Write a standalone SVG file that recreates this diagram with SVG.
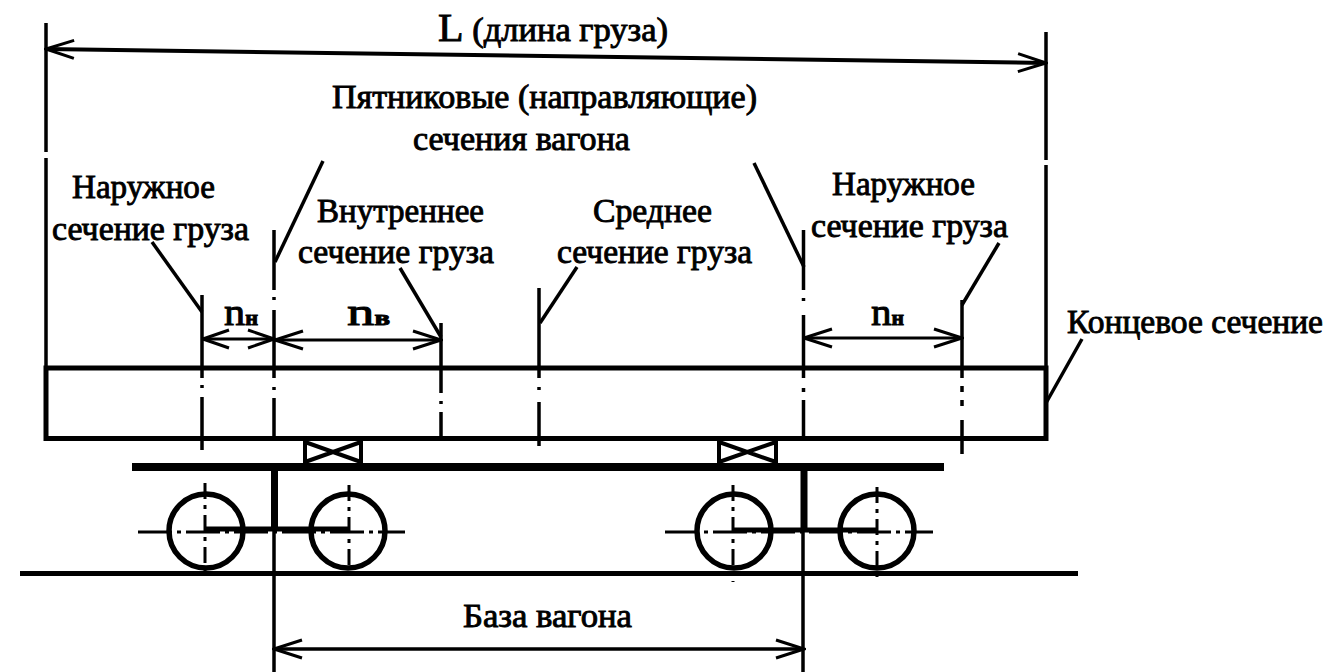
<svg xmlns="http://www.w3.org/2000/svg" width="1341" height="672" viewBox="0 0 1341 672">
<style>
.t{font-family:"Liberation Serif","Times New Roman",serif;font-size:33px;fill:#000;stroke:#000;stroke-width:.9px}
.n{font-size:38px}
.s{font-size:20px;font-weight:bold}
line,path,circle,rect{stroke:#000;fill:none;stroke-linecap:butt}
.th{stroke-width:3.500}
.m{stroke-width:4}
.b{stroke-width:5}
.h{stroke-width:8}
.dim{stroke-width:3}
.lead{stroke-width:3.500}
.w{stroke-width:5.500;fill:none}
.c{stroke-width:3}
</style>
<defs>
<marker id="a" viewBox="-30 -12 32 24" refX="0" refY="0" markerWidth="32" markerHeight="24" markerUnits="userSpaceOnUse" orient="auto-start-reverse">
<path d="M-28,-9 L0,0 L-28,9" style="stroke-width:3"/>
</marker>
<marker id="as" viewBox="-30 -12 32 24" refX="0" refY="0" markerWidth="32" markerHeight="24" markerUnits="userSpaceOnUse" orient="auto-start-reverse">
<path d="M-26,-9 L0,0 L-26,9" style="stroke-width:3"/>
</marker>
</defs>
<rect width="1341" height="672" style="fill:#fff;stroke:none"/>
<g id="cargo">
<path class="b" d="M46,368 V438.500 H1046 V368 Z"/>
<path class="th" d="M46,23 V152 M46,158 V368 M1046,32 V160 M1046,165 V368"/>
</g>
<g id="pads">
<path class="m" d="M305,440 V464 M361,440 V464 M305,442 L361,462 M361,442 L305,462"/>
<path class="m" d="M719,440 V464 M776,440 V464 M719,442 L776,462 M776,442 L719,462"/>
</g>
<g id="wagon">
<line class="h" x1="132" y1="467" x2="944" y2="467"/>
<line x1="274.500" y1="471" x2="274.500" y2="530" style="stroke-width:7"/>
<line x1="804" y1="471" x2="804" y2="530" style="stroke-width:7"/>
<line class="b" x1="205" y1="529" x2="348" y2="529"/>
<line class="b" x1="734" y1="530" x2="877" y2="530"/>
<circle class="w" cx="206" cy="531" r="37"/>
<circle class="w" cx="348" cy="531" r="37"/>
<circle class="w" cx="734" cy="531" r="37"/>
<circle class="w" cx="877" cy="531" r="37"/>
<path class="c" d="M138,532 H405 M665,532 H933" stroke-dasharray="34 5 4 5"/>
<path class="c" d="M205,483 V576 M349,485 V576 M733,485 V582 M877,487 V582" stroke-dasharray="16 6 4 6"/>
<line class="b" x1="20" y1="573.500" x2="1078" y2="573.500"/>
</g>
<g id="sections">
<path class="th" d="M202,295 V378 M202,385 V388 M202,397 V450"/>
<path class="th" d="M274,230 V290 M274,297 V300 M274,310 V378 M274,387 V390 M274,398 V438"/>
<path class="th" d="M274,530 V672"/>
<path class="th" d="M441,323 V393 M441,401 V404 M441,412 V438"/>
<path class="th" d="M539,288 V378 M539,387 V390 M539,402 V446"/>
<path class="th" d="M803.500,230 V290 M803.500,298 V301 M803.500,315 V378 M803.500,388 V392 M803.500,400 V438"/>
<path class="th" d="M803,530 V672"/>
<path class="th" d="M962,300 V378 M962,386 V392 M962,400 V406 M962,420 V454"/>
</g>
<g id="connectors">
<line class="m" x1="46" y1="49" x2="1046" y2="63" marker-start="url(#a)" marker-end="url(#a)"/>
<line class="dim" x1="203" y1="339" x2="274" y2="339" marker-start="url(#as)" marker-end="url(#as)"/>
<line class="dim" x1="275" y1="340" x2="441" y2="340" marker-start="url(#a)" marker-end="url(#a)"/>
<line class="dim" x1="804" y1="338" x2="962" y2="338" marker-start="url(#a)" marker-end="url(#a)"/>
<line class="th" x1="274" y1="649" x2="804" y2="649" marker-start="url(#a)" marker-end="url(#a)"/>
<line class="lead" x1="152" y1="242" x2="202" y2="312"/>
<line class="lead" x1="323" y1="161" x2="275" y2="262"/>
<line class="lead" x1="754" y1="163" x2="804" y2="267"/>
<line class="lead" x1="400" y1="268" x2="441" y2="337"/>
<line class="lead" x1="577" y1="267" x2="540" y2="323"/>
<line class="lead" x1="999" y1="243" x2="962" y2="305"/>
<line class="lead" x1="1082" y1="339" x2="1046" y2="403"/>
</g>
<g id="labels">
<text class="t" x="438" y="41" textLength="230" lengthAdjust="spacingAndGlyphs"><tspan style="font-size:40px">L</tspan> (длина груза)</text>
<text class="t" x="332" y="108" textLength="425" lengthAdjust="spacingAndGlyphs">Пятниковые (направляющие)</text>
<text class="t" x="413" y="150" textLength="217" lengthAdjust="spacingAndGlyphs">сечения вагона</text>
<text class="t" x="72" y="198" textLength="143" lengthAdjust="spacingAndGlyphs">Наружное</text>
<text class="t" x="52" y="240" textLength="197" lengthAdjust="spacingAndGlyphs">сечение груза</text>
<text class="t" x="317" y="222" textLength="167" lengthAdjust="spacingAndGlyphs">Внутреннее</text>
<text class="t" x="298" y="263" textLength="196" lengthAdjust="spacingAndGlyphs">сечение груза</text>
<text class="t" x="593" y="222" textLength="119" lengthAdjust="spacingAndGlyphs">Среднее</text>
<text class="t" x="557" y="263" textLength="195" lengthAdjust="spacingAndGlyphs">сечение груза</text>
<text class="t" x="832" y="195" textLength="143" lengthAdjust="spacingAndGlyphs">Наружное</text>
<text class="t" x="811" y="237" textLength="197" lengthAdjust="spacingAndGlyphs">сечение груза</text>
<text class="t" x="1067" y="333" textLength="256" lengthAdjust="spacingAndGlyphs">Концевое сечение</text>
<text class="t" x="463" y="627" textLength="169" lengthAdjust="spacingAndGlyphs">База вагона</text>
<text class="t n" x="224" y="325" textLength="34" lengthAdjust="spacingAndGlyphs">n<tspan class="s">н</tspan></text>
<text class="t n" x="347" y="325" textLength="43" lengthAdjust="spacingAndGlyphs">n<tspan class="s">в</tspan></text>
<text class="t n" x="871" y="325" textLength="33" lengthAdjust="spacingAndGlyphs">n<tspan class="s">н</tspan></text>
</g>
</svg>
